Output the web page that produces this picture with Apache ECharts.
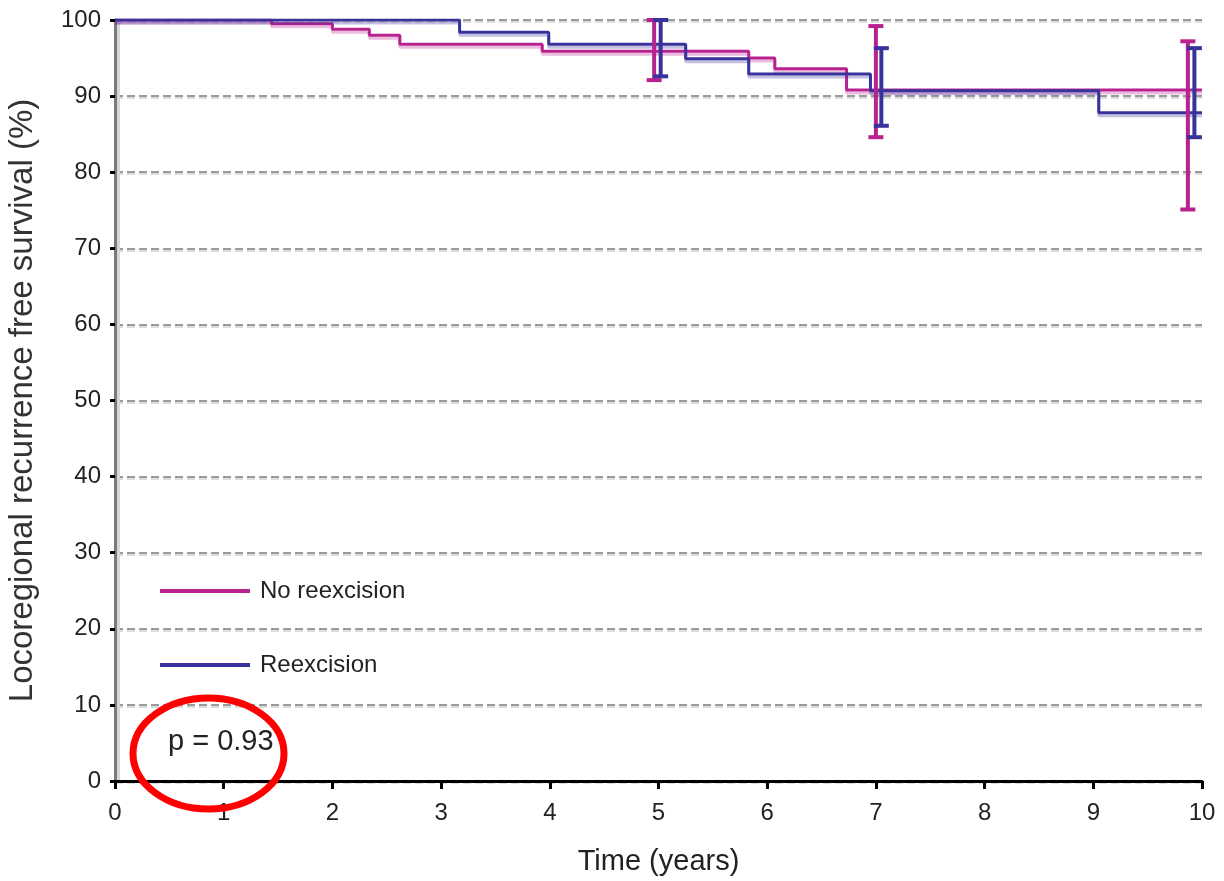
<!DOCTYPE html>
<html>
<head>
<meta charset="utf-8">
<script src="https://cdn.jsdelivr.net/npm/echarts@6/dist/echarts.min.js"></script>
<style>
  html, body { margin: 0; padding: 0; background: #fff; }
  #chart { width: 1224px; height: 881px; }
</style>
</head>
<body>
<div id="chart"></div>
<script>
// Kaplan-Meier steps: [time (years), survival % from that time on]
var noReexcision = [[0, 100], [1.44, 99.5], [2.0, 98.8], [2.34, 98.0], [2.62, 96.8], [3.93, 95.9],
                    [5.83, 95.0], [6.07, 93.6], [6.73, 90.8], [10, 90.8]];
var reexcision = [[0, 100], [3.17, 98.4], [3.99, 96.8], [5.25, 94.9], [5.83, 92.9], [6.95, 90.7],
                  [9.05, 87.8], [10, 87.8]];

// confidence intervals: [time, lower, upper]
var noReexcisionCI = [[4.96, 92.1, 100], [7.0, 84.6, 99.2], [9.87, 75.1, 97.2]];
var reexcisionCI = [[5.02, 92.6, 100], [7.05, 86.1, 96.3], [9.93, 84.6, 96.3]];

var xTicks = [0, 1, 2, 3, 4, 5, 6, 7, 8, 9, 10];
var yTicks = [0, 10, 20, 30, 40, 50, 60, 70, 80, 90, 100];

var MAGENTA = '#b8228f';
var BLUE = '#38339b';
var FONT = "'Liberation Sans', Arial, sans-serif";

function errorBars(color) {
    return function (params, api) {
        var lo = api.coord([api.value(0), api.value(1)]);
        var hi = api.coord([api.value(0), api.value(2)]);
        var w = 7.5;
        var style = {stroke: color, lineWidth: 4};
        return {
            type: 'group',
            children: [
                {type: 'line', shape: {x1: lo[0], y1: lo[1], x2: hi[0], y2: hi[1]}, style: style},
                {type: 'line', shape: {x1: lo[0] - w, y1: lo[1], x2: lo[0] + w, y2: lo[1]}, style: style},
                {type: 'line', shape: {x1: hi[0] - w, y1: hi[1], x2: hi[0] + w, y2: hi[1]}, style: style}
            ]
        };
    };
}

var chart = echarts.init(document.getElementById('chart'));

chart.setOption({
    animation: false,
    backgroundColor: '#fff',
    textStyle: {fontFamily: FONT},
    grid: {left: 115, right: 22, top: 20, bottom: 100, outerBoundsMode: 'none'},
    legend: {
        orient: 'vertical',
        left: 160,
        top: 575,
        padding: 0,
        itemWidth: 90,
        itemHeight: 4,
        itemGap: 42,
        icon: 'rect',
        data: ['No reexcision', 'Reexcision'],
        textStyle: {fontFamily: FONT, fontSize: 24, color: '#222', padding: [0, 0, 0, 5], lineHeight: 32}
    },
    xAxis: {
        type: 'value',
        min: 0,
        max: 10,
        interval: 1,
        name: 'Time (years)',
        nameLocation: 'middle',
        nameGap: 66,
        nameTextStyle: {fontFamily: FONT, fontSize: 29, color: '#222'},
        axisLine: {lineStyle: {color: '#000', width: 3}},
        axisTick: {length: 8, lineStyle: {color: '#000', width: 3}},
        axisLabel: {fontFamily: FONT, fontSize: 24, color: '#222', margin: 20,
            formatter: function (v) { return xTicks.indexOf(v) >= 0 ? String(v) : ''; }},
        splitLine: {show: false}
    },
    yAxis: {
        type: 'value',
        min: 0,
        max: 100,
        interval: 10,
        name: 'Locoregional recurrence free survival (%)',
        nameLocation: 'middle',
        nameGap: 76,
        nameTextStyle: {fontFamily: FONT, fontSize: 33, color: '#333'},
        axisLine: {show: true, lineStyle: {color: '#7a7a7a', width: 3, shadowColor: '#d6d6d6', shadowOffsetX: 3}},
        axisTick: {show: true, length: 5, lineStyle: {color: '#000', width: 3}},
        axisLabel: {fontFamily: FONT, fontSize: 24, color: '#222', margin: 14,
            formatter: function (v) { return yTicks.indexOf(v) >= 0 ? String(v) : ''; }},
        splitLine: {
            show: true,
            lineStyle: {color: '#9a9a9a', width: 2, type: [8, 4], shadowColor: '#dcdcdc', shadowOffsetY: 2}
        }
    },
    graphic: [
        {
            type: 'text',
            left: 168,
            top: 727,
            style: {text: 'p = 0.93', font: '29px ' + FONT, fill: '#222'}
        },
        {
            type: 'ellipse',
            shape: {cx: 208.5, cy: 753.5, rx: 75.5, ry: 55.5},
            style: {fill: 'none', stroke: '#ff0000', lineWidth: 7},
            z: 100
        }
    ],
    series: [
        {
            name: 'No reexcision',
            type: 'line',
            step: 'end',
            data: noReexcision,
            showSymbol: false,
            color: MAGENTA,
            lineStyle: {color: MAGENTA, width: 3, shadowColor: 'rgba(184,34,143,0.3)', shadowOffsetY: 3},
            z: 3
        },
        {
            name: 'Reexcision',
            type: 'line',
            step: 'end',
            data: reexcision,
            showSymbol: false,
            color: BLUE,
            lineStyle: {color: BLUE, width: 3, shadowColor: 'rgba(56,51,155,0.3)', shadowOffsetY: 3},
            z: 4
        },
        {
            name: 'No reexcision CI',
            type: 'custom',
            renderItem: errorBars(MAGENTA),
            data: noReexcisionCI,
            clip: false,
            z: 5
        },
        {
            name: 'Reexcision CI',
            type: 'custom',
            renderItem: errorBars(BLUE),
            data: reexcisionCI,
            clip: false,
            z: 6
        }
    ]
});
</script>
</body>
</html>
